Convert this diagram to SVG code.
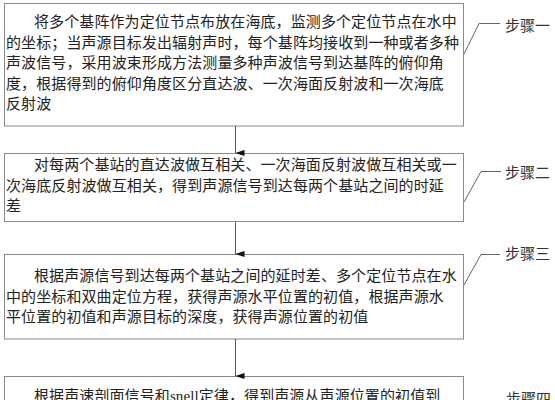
<svg xmlns="http://www.w3.org/2000/svg" width="555" height="400" viewBox="0 0 555 400">
<defs>
<style>
.box{fill:#ffffff;stroke:#8a8a8a;stroke-width:1}
.t{font-family:"Liberation Serif","Noto Sans CJK SC",serif;font-size:15px;fill:#222222;letter-spacing:0.1px}
.lbl{font-family:"Liberation Serif","Noto Sans CJK SC",serif;font-size:15px;fill:#333333}
.ln{fill:none;stroke:#555555;stroke-width:1}
.lead{fill:none;stroke:#666666;stroke-width:1}
</style>
<marker id="ah" markerWidth="6" markerHeight="9" refX="3" refY="9" orient="auto" markerUnits="userSpaceOnUse" viewBox="0 0 6 9">
<path d="M0,0 L6,0 L3,9 Z" fill="#111111"/>
</marker>
</defs>
<rect width="555" height="400" fill="#ffffff"/>

<g id="step1">
<rect class="box" x="4.5" y="3.5" width="459" height="122.5"/>
<text class="t" x="34" y="27">将多个基阵作为定位节点布放在海底，监测多个定位节点在水中</text>
<text class="t" x="6" y="47.5">的坐标；当声源目标发出辐射声时，每个基阵均接收到一种或者多种</text>
<text class="t" x="6" y="68">声波信号，采用波束形成方法测量多种声波信号到达基阵的俯仰角</text>
<text class="t" x="6" y="88.5">度，根据得到的俯仰角度区分直达波、一次海面反射波和一次海底</text>
<text class="t" x="6" y="109">反射波</text>
</g>

<g id="step2">
<rect class="box" x="4.5" y="153.5" width="459" height="68"/>
<text class="t" x="34" y="170">对每两个基站的直达波做互相关、一次海面反射波做互相关或一</text>
<text class="t" x="6" y="190.5">次海底反射波做互相关，得到声源信号到达每两个基站之间的时延</text>
<text class="t" x="6" y="211">差</text>
</g>

<g id="step3">
<rect class="box" x="4.5" y="254.5" width="459" height="84.5"/>
<text class="t" x="34" y="280.5">根据声源信号到达每两个基站之间的延时差、多个定位节点在水</text>
<text class="t" x="6" y="301.5">中的坐标和双曲定位方程，获得声源水平位置的初值，根据声源水</text>
<text class="t" x="6" y="322">平位置的初值和声源目标的深度，获得声源位置的初值</text>
</g>

<g id="step4">
<rect class="box" x="4.5" y="376.5" width="459" height="40"/>
<text class="t" x="34" y="400.5">根据声速剖面信号和snell定律，得到声源从声源位置的初值到</text>
</g>

<g id="labels">
<text class="lbl" x="505" y="30.5">步骤一</text>
<text class="lbl" x="505" y="178">步骤二</text>
<text class="lbl" x="505" y="258.5">步骤三</text>
<text class="lbl" x="506" y="404">步骤四</text>
</g>

<g id="connectors">
<line class="ln" x1="235.5" y1="126" x2="235.5" y2="153" marker-end="url(#ah)"/>
<line class="ln" x1="235.5" y1="222" x2="235.5" y2="254" marker-end="url(#ah)"/>
<line class="ln" x1="235.5" y1="339" x2="235.5" y2="376" marker-end="url(#ah)"/>
<polyline class="lead" points="464,54 479,23.5 500,23.5"/>
<polyline class="lead" points="464,202 481,171.5 501,171.5"/>
<polyline class="lead" points="464,285 481,254.5 500,254.5"/>
</g>
</svg>
